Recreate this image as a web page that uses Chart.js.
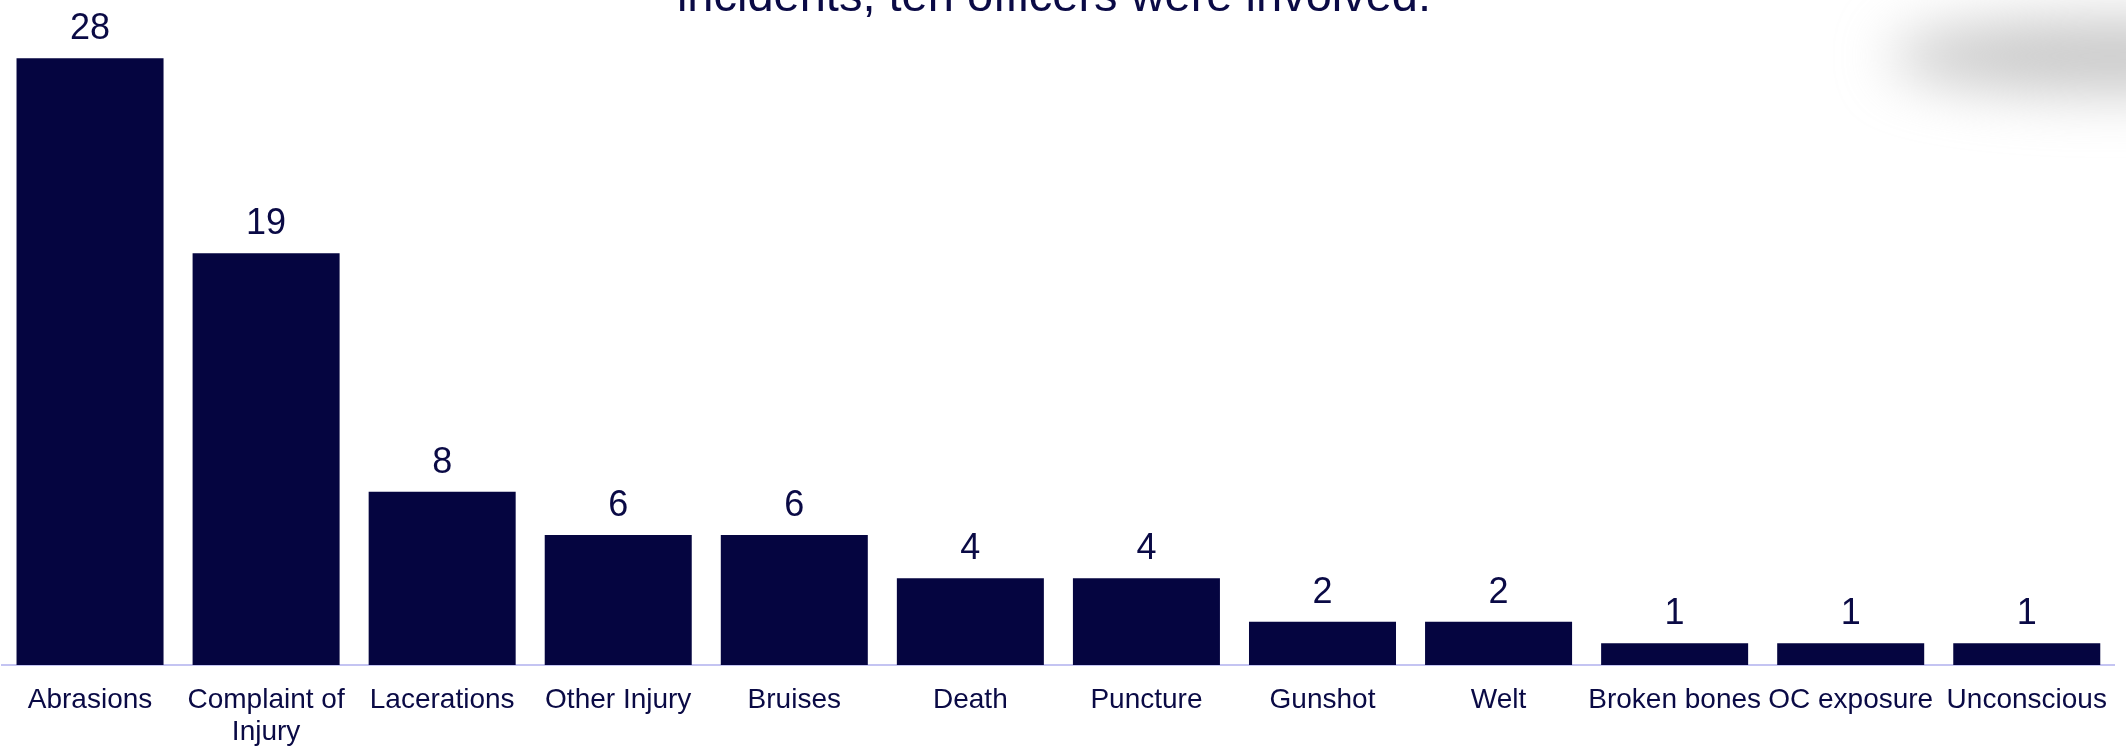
<!DOCTYPE html>
<html>
<head>
<meta charset="utf-8">
<style>
  html, body { margin: 0; padding: 0; background: #ffffff; }
  #wrap { position: relative; width: 2126px; height: 746px; }
  canvas { display: block; }
</style>
<script src="https://cdn.jsdelivr.net/npm/chart.js@4"></script>
</head>
<body>
<div id="wrap"><canvas id="c" width="2126" height="746"></canvas></div>
<script>
// Injury types and their counts
const categories = [
  'Abrasions', ['Complaint of', 'Injury'], 'Lacerations', 'Other Injury', 'Bruises',
  'Death', 'Puncture', 'Gunshot', 'Welt', 'Broken bones', 'OC exposure', 'Unconscious'
];
const injuryCounts = [28, 19, 8, 6, 6, 4, 4, 2, 2, 1, 1, 1];
const headingText = 'incidents, ten officers were involved.';

const NAVY = '#050540';
const TEXT = '#0a0a45';
const FONT = '"Liberation Sans", Arial, sans-serif';

// Soft grey shadow in the top-right corner and the clipped heading line
const backdrop = {
  id: 'backdrop',
  beforeDraw(chart) {
    const ctx = chart.ctx;
    ctx.save();
    ctx.filter = 'blur(28px)';
    ctx.fillStyle = 'rgba(185,185,185,0.8)';
    ctx.beginPath();
    ctx.ellipse(2110, 56, 220, 36, 0, 0, Math.PI * 2);
    ctx.fill();
    ctx.restore();

    ctx.save();
    ctx.font = '47px ' + FONT;
    ctx.fillStyle = TEXT;
    ctx.textAlign = 'center';
    ctx.textBaseline = 'alphabetic';
    ctx.fillText(headingText, 1054, 11);
    ctx.restore();
  }
};

// Value printed above each bar
const valueLabels = {
  id: 'valueLabels',
  afterDatasetsDraw(chart) {
    const ctx = chart.ctx;
    const meta = chart.getDatasetMeta(0);
    ctx.save();
    ctx.font = '36px ' + FONT;
    ctx.fillStyle = TEXT;
    ctx.textAlign = 'center';
    ctx.textBaseline = 'alphabetic';
    meta.data.forEach((bar, i) => {
      ctx.fillText(String(chart.data.datasets[0].data[i]), bar.x, bar.y - 19);
    });
    ctx.restore();
  }
};

new Chart(document.getElementById('c'), {
  type: 'bar',
  data: {
    labels: categories,
    datasets: [{
      data: injuryCounts,
      backgroundColor: NAVY,
      borderWidth: 0,
      categoryPercentage: 1.0,
      barPercentage: 0.835
    }]
  },
  options: {
    responsive: false,
    animation: false,
    devicePixelRatio: 1,
    layout: { padding: { top: 15, left: 2, right: 2, bottom: 0 } },
    plugins: {
      legend: { display: false },
      tooltip: { enabled: false },
      title: { display: false }
    },
    scales: {
      x: {
        grid: { display: false, drawTicks: false },
        border: { display: true, color: '#c4c4f2', width: 2 },
        ticks: {
          color: TEXT,
          font: { family: FONT, size: 28, lineHeight: 1.15 },
          padding: 19,
          autoSkip: false,
          maxRotation: 0,
          minRotation: 0
        },
        afterFit(scale) { scale.height = 81; }
      },
      y: {
        display: false,
        min: 0,
        max: 30
      }
    }
  },
  plugins: [backdrop, valueLabels]
});
</script>
</body>
</html>
